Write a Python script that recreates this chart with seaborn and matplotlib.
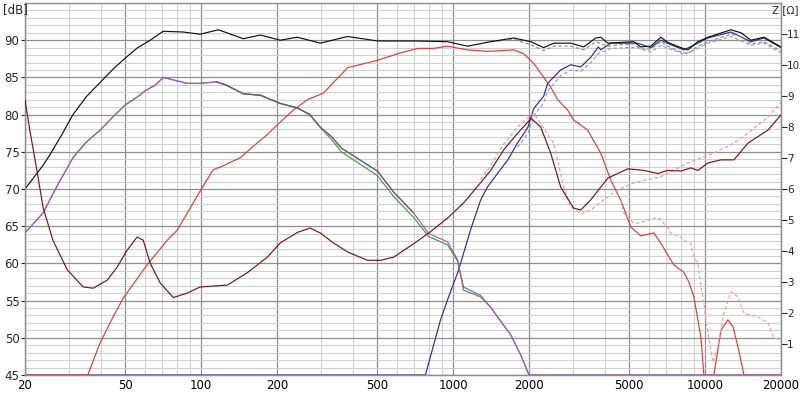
import numpy as np
import pandas as pd
import matplotlib
matplotlib.use("Agg")
import matplotlib.pyplot as plt
import seaborn as sns
from matplotlib.ticker import FixedLocator, NullFormatter, FixedFormatter

# ---------------- data ----------------
total_f = [20, 23.6, 25, 28, 31, 35, 39.7, 45, 50, 56, 62.8, 70.7, 84.9, 99, 117, 147, 172, 206, 241, 297, 381,
           501, 696, 950, 1141, 1409, 1738, 2030, 2288, 2506, 2928, 3298, 3680, 3854, 4109, 4626, 5209, 5554,
           6086, 6672, 7112, 8010, 8541, 9361, 10258, 12658, 13870, 15200, 17122, 20000]
total_db = [70, 73.2, 74.5, 77.3, 80.0, 82.4, 84.3, 86.2, 87.6, 89.0, 90, 91.2, 91.1, 90.8, 91.4, 90.2, 90.7, 90,
            90.4, 89.6, 90.5, 89.9, 89.9, 89.8, 89.2, 89.8, 90.3, 89.8, 89.0, 89.6, 89.6, 89.1, 90.3, 90.4,
            89.6, 89.7, 89.8, 89.1, 89.2, 90.4, 89.7, 89.0, 88.7, 89.8, 90.4, 91.4, 91.0, 90.0, 90.4, 89.1]

total_alt_f = [1409, 1738, 2030, 2288, 2506, 2928, 3298, 3680, 4109, 4626, 5209, 5554, 6086, 6672, 7112, 8010,
               8541, 9361, 10258, 12658, 13870, 15200, 17122, 20000]
total_alt_db = [89.8, 90.1, 89.4, 88.6, 89.2, 89.2, 88.7, 89.8, 89.2, 89.4, 89.5, 88.8, 88.8, 89.8, 89.2, 88.4,
                88.2, 89.2, 89.8, 90.8, 90.5, 89.5, 89.8, 88.5]

woofer_f = [20, 23.6, 27, 31, 35, 39.7, 45, 50, 56, 60, 66, 70.7, 88, 99, 115, 125, 147, 172, 206, 241, 270, 297,
            330, 360, 501, 580, 696, 800, 950, 1041, 1100, 1285, 1409, 1501, 1692, 1853, 2000, 20000]
woofer_db = [64.1, 66.8, 70.6, 74.2, 76.3, 77.9, 79.8, 81.3, 82.4, 83.2, 84, 85, 84.2, 84.2, 84.4, 84.0, 82.8,
             82.6, 81.5, 80.9, 80, 78.3, 77, 75.5, 72.4, 69.6, 66.8, 64.0, 62.9, 60.5, 56.4, 55.5, 54.1, 52.8,
             50.4, 47.7, 45, 45]
woofer_alt_db = [64.1, 66.8, 70.6, 74.2, 76.3, 77.9, 79.8, 81.3, 82.4, 83.2, 84, 85, 84.2, 84.2, 84.4, 84.0, 82.8,
                 82.6, 81.5, 80.9, 80, 78.3, 76.6, 75.0, 71.8, 69.0, 66.2, 63.6, 62.5, 60.3, 56.8, 55.7, 54.1,
                 52.8, 50.4, 47.7, 45, 45]

mid_f = [20, 35.5, 39.7, 44.7, 49, 61, 73.3, 80.5, 99, 111.7, 120, 143, 167, 183, 200, 232, 264, 306, 381, 501,
         618, 722, 836, 950, 1141, 1370, 1738, 1904, 2087, 2438, 2600, 2848, 3000, 3298, 3420, 3854, 4222, 4626,
         5070, 5554, 6258, 6672, 7512, 8234, 8618, 9023, 9620, 9886, 10832, 11552, 12315, 12892, 13497, 14258, 20000]
mid_db = [45, 45, 49.3, 52.8, 55.3, 59.8, 63.1, 64.5, 69.7, 72.6, 73, 74.2, 76.2, 77.3, 78.6, 80.6, 82, 82.9, 86.3,
          87.3, 88.3, 88.9, 88.9, 89.2, 88.7, 88.5, 88.7, 88.2, 86.9, 83.7, 82, 80.6, 79.3, 78.3, 77.9, 74.8, 71.2,
          68.5, 64.9, 63.7, 64.1, 62.7, 59.8, 58.8, 57.5, 55.5, 50.1, 45, 45, 51, 52.4, 51.5, 48.8, 45, 45]

mid_alt_f = [4626, 4754, 5209, 5400, 6490, 7112, 7308, 8010, 8234, 8772, 9023, 9361, 9620, 9886, 10070, 10740,
             11240, 11872, 12658, 13497, 14258, 16200, 17756, 18754, 20000]
mid_alt_db = [68.5, 66.8, 65.4, 65.4, 66.2, 64.8, 64.1, 63.5, 63.1, 62.7, 60.9, 60, 57, 54.7, 52.4, 46.7,
              48.8, 53.3, 56.2, 55.5, 53.3, 52.8, 52, 50, 49.7]

tw_f = [20, 776, 891, 950, 1051, 1172, 1285, 1370, 1501, 1646, 1803, 1980, 2087, 2288, 2372, 2672, 2928, 3209,
        3516, 3770, 3854, 4222, 4932, 5400, 6086, 6672, 7308, 8234, 9361, 10258, 12658, 15200, 17122, 20000]
tw_db = [45, 45, 52.4, 55.1, 59.1, 64.5, 68.5, 70.3, 72.1, 73.9, 76.2, 78.3, 80.8, 82.5, 84.2, 86, 86.7, 86.4,
         87.7, 89.1, 88.7, 89.6, 89.6, 89.6, 89.0, 90.0, 89.4, 88.7, 89.6, 90.3, 91.1, 89.8, 90.3, 89.0]

tw_alt_f = [1803, 1980, 2087, 2288, 2372, 2672, 2928, 3209, 3516, 3770, 4222, 4932, 5400, 6086, 6672, 7308,
            8234, 9361, 10258, 12658, 15200, 17122, 20000]
tw_alt_db = [75.6, 77.5, 79.8, 81.6, 83.2, 85.2, 86.0, 85.8, 87.0, 88.2, 88.9, 89.0, 89.0, 88.4, 89.3, 88.8,
             88.1, 88.9, 89.6, 90.5, 89.3, 89.6, 88.3]

imp_f = [20, 20.9, 22.3, 23.6, 25.8, 29.4, 34, 37.3, 42.4, 46.4, 50.9, 55.7, 58.9, 62.8, 68.8, 77.5, 88, 99, 127,
         152.6, 183, 206, 241, 271, 297, 335, 381, 457, 515, 580, 696, 800, 950, 1100, 1285, 1409, 1586, 1803,
         2000, 2030, 2226, 2438, 2672, 3000, 3209, 3516, 4109, 4932, 5710, 6490, 7112, 8010, 8772, 9361, 10258,
         11552, 13006, 14786, 17756, 20000]
imp_z = [8.87, 7.9, 6.6, 5.4, 4.35, 3.4, 2.84, 2.8, 3.06, 3.48, 4.03, 4.45, 4.35, 3.6, 2.97, 2.5, 2.64, 2.84, 2.9,
         3.3, 3.8, 4.26, 4.6, 4.74, 4.58, 4.26, 3.97, 3.7, 3.7, 3.8, 4.23, 4.58, 5.06, 5.55, 6.2, 6.6, 7.26, 7.8,
         8.2, 8.29, 8.0, 7.16, 6.06, 5.39, 5.32, 5.65, 6.35, 6.65, 6.6, 6.5, 6.6, 6.58, 6.68, 6.6, 6.84,
         6.94, 6.94, 7.48, 7.9, 8.39]

imp_alt_f = [1285, 1409, 1586, 1803, 2087, 2506, 2746, 2928, 3209, 3516, 3960, 4500, 5209, 6672, 8541, 10832,
             13006, 14786, 17756, 20000]
imp_alt_z = [6.3, 6.75, 7.45, 8.0, 8.45, 7.48, 6.06, 5.42, 5.2, 5.32, 5.65, 5.97, 6.2, 6.4, 6.84, 7.16,
             7.48, 7.8, 8.32, 8.8]

x_ticks = [20, 50, 100, 200, 500, 1000, 2000, 5000, 10000, 20000]
x_labels = ["20", "50", "100", "200", "500", "1000", "2000", "5000", "10000", "20000"]
db_ticks = [45, 50, 55, 60, 65, 70, 75, 80, 85, 90]
z_ticks = [1, 2, 3, 4, 5, 6, 7, 8, 9, 10, 11]

# ---------------- drawing ----------------
sns.set_style("white")
plt.rcParams['font.family'] = ['DejaVu Sans']

fig = plt.figure(figsize=(8.0, 3.94), dpi=100)
ax = fig.add_axes([25 / 800, 19 / 394, 756 / 800, 372 / 394])
ax2 = ax.twinx()

lw = 0.85


def line(a, f, v, color, ls="-", z=2, width=lw):
    sns.lineplot(x=f, y=v, ax=a, color=color, linestyle=ls, linewidth=width,
                 estimator=None, sort=False, zorder=z, legend=False)


wmask = [(110 <= f <= 700) for f in woofer_f]
woofer_gray_f = [f for f, m in zip(woofer_f, wmask) if m]
woofer_gray_db = [v for v, m in zip(woofer_db, wmask) if m]

line(ax, tw_f, tw_db, "#2a2a9c", z=2)
line(ax, mid_f, mid_db, "#e23a3a", z=3)
line(ax, mid_alt_f, mid_alt_db, "#e8a0a0", ls=(0, (3, 2)), z=3)
line(ax, woofer_f, woofer_alt_db, "#3aa03a", z=4)
line(ax, woofer_f, woofer_db, "#b050c8", z=5)
line(ax, woofer_gray_f, woofer_gray_db, "#606060", z=6)
line(ax, tw_alt_f, tw_alt_db, "#9a9aaa", ls=(0, (3, 2)), z=6)
line(ax, total_alt_f, total_alt_db, "#8c8c8c", ls=(0, (3, 2)), z=7)
line(ax, total_f, total_db, "#101010", z=8)

line(ax2, imp_alt_f, imp_alt_z, "#d8a0a0", ls=(0, (3, 2)), z=3)
line(ax2, imp_f, imp_z, "#7a1020", z=4)

ax.set_xscale("log")
ax.set_xlim(20, 20000)
ax.set_ylim(45, 95)
ax2.set_ylim(0, 12)

minor_x = [m * d for d in [10, 100, 1000, 10000] for m in range(1, 10)]
minor_x = [v for v in minor_x if 20 < v < 20000 and v not in x_ticks]
ax.xaxis.set_major_locator(FixedLocator(x_ticks))
ax.xaxis.set_major_formatter(FixedFormatter(x_labels))
ax.xaxis.set_minor_locator(FixedLocator(minor_x))
ax.xaxis.set_minor_formatter(NullFormatter())
ax.yaxis.set_major_locator(FixedLocator(db_ticks))
ax.yaxis.set_minor_locator(FixedLocator([v for v in range(46, 95) if v % 5 != 0]))

ax.grid(which="major", color="#8e8e8e", linewidth=0.9)
ax.grid(which="minor", color="#cfcfcf", linewidth=0.8)
ax.set_axisbelow(True)

ax.tick_params(axis="x", which="major", length=0, pad=3, labelsize=8.5, colors="#000000")
ax.tick_params(axis="x", which="minor", length=0)
ax.tick_params(axis="y", which="major", length=3, pad=1, labelsize=8.5, left=True)
ax.tick_params(axis="y", which="minor", length=0)

ax2.yaxis.set_major_locator(FixedLocator(z_ticks))
ax2.tick_params(axis="y", length=4, pad=0.5, labelsize=7.5, right=True, direction="out")
ax2.grid(False)

for a in (ax, ax2):
    for s in a.spines.values():
        s.set_color("#8e8e8e")
        s.set_linewidth(0.9)

ax.set_xlabel("")
ax.set_ylabel("")
ax2.set_ylabel("")

fig.text(3 / 800, 1 - 10 / 394, "[dB]", fontsize=8.5, va="center", ha="left")
fig.text(799 / 800, 1 - 10 / 394, "Z [\u03a9]", fontsize=7.5, va="center", ha="right")

fig.savefig("out.png", dpi=100)
